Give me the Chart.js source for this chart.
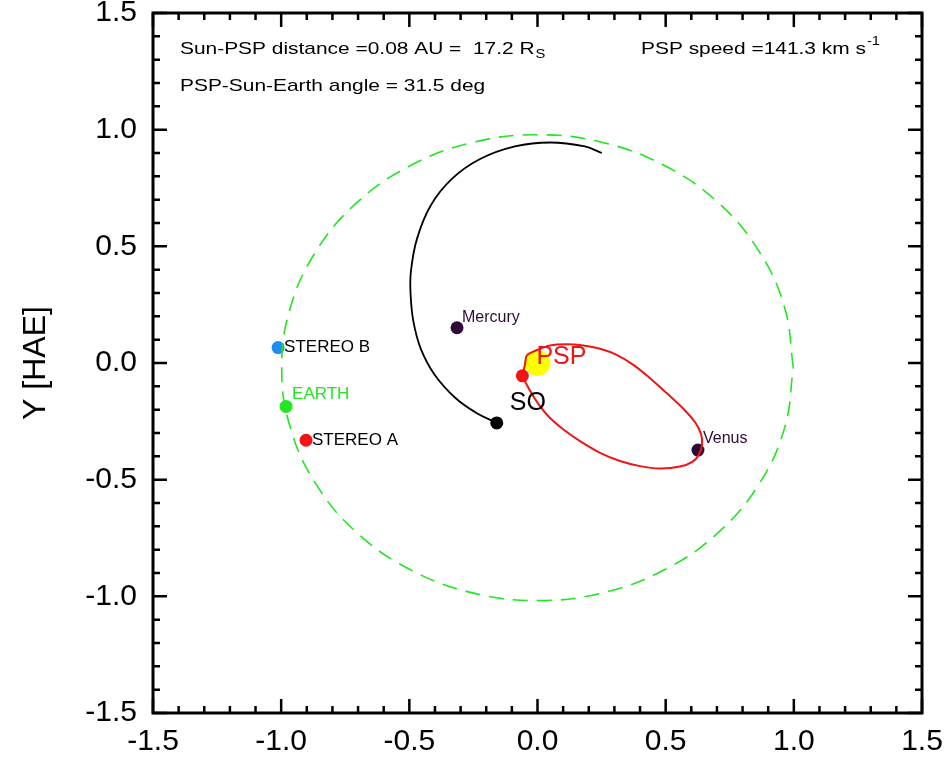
<!DOCTYPE html>
<html>
<head>
<meta charset="utf-8">
<script src="https://cdn.jsdelivr.net/npm/chart.js@4"></script>
<style>
  html, body { margin: 0; padding: 0; background: #fff; }
  #wrap { width: 949px; height: 758px; position: relative; }
</style>
</head>
<body>
<div id="wrap"><canvas id="orbits"></canvas></div>
<script>
// Positions in HAE [AU]
const bodyNames = ["STEREO B", "EARTH", "STEREO A", "Mercury", "Venus", "SO", "PSP"];
const bodyX = [-1.012, -0.981, -0.903, -0.314, 0.626, -0.159, -0.059];
const bodyY = [0.066, -0.186, -0.331, 0.151, -0.373, -0.257, -0.055];

const sunX = [0.0];
const sunY = [0.0];

// Earth orbit (dashed)
const earthOrbitX = [0.998, 0.964, 0.864, 0.706, 0.499, 0.258, 0.000, -0.258, -0.499, -0.706, -0.864, -0.964,
  -0.998, -0.964, -0.864, -0.706, -0.499, -0.258, 0.000, 0.258, 0.499, 0.706, 0.864, 0.964, 0.998];
const earthOrbitY = [-0.020, 0.238, 0.479, 0.686, 0.844, 0.944, 0.978, 0.944, 0.844, 0.686, 0.479, 0.238,
  -0.020, -0.278, -0.519, -0.726, -0.884, -0.984, -1.018, -0.984, -0.884, -0.726, -0.519, -0.278, -0.020];

// Solar Orbiter track
const soPathX = [-0.159, -0.238, -0.320, -0.402, -0.456, -0.484, -0.495, -0.494, -0.470, -0.416, -0.334,
  -0.224, -0.088, 0.049, 0.185, 0.251];
const soPathY = [-0.257, -0.214, -0.150, -0.049, 0.063, 0.177, 0.292, 0.391, 0.533, 0.676, 0.789,
  0.874, 0.928, 0.945, 0.928, 0.900];

// Parker Solar Probe orbit
const pspOrbitX = [-0.059, -0.049, -0.042, -0.016, 0.049, 0.114, 0.179, 0.244, 0.309, 0.374, 0.439, 0.504,
  0.569, 0.615, 0.638, 0.642, 0.630, 0.604, 0.556, 0.478, 0.400, 0.322, 0.244, 0.166, 0.101, 0.049, 0.010,
  -0.016, -0.042, -0.059];
const pspOrbitY = [-0.055, -0.008, 0.032, 0.049, 0.075, 0.080, 0.075, 0.061, 0.035, -0.008, -0.065, -0.129,
  -0.196, -0.254, -0.305, -0.350, -0.392, -0.424, -0.444, -0.452, -0.442, -0.420, -0.385, -0.335, -0.285,
  -0.236, -0.186, -0.143, -0.093, -0.055];

const headerLines = ["Sun-PSP distance =0.08 AU =  17.2 R", "PSP-Sun-Earth angle = 31.5 deg", "PSP speed =141.3 km s"];

// styles
const FONT = "Helvetica, Arial, 'Liberation Sans', sans-serif";
const bodyColors = ["#1e8cf0", "#22e622", "#f01414", "#2e0b36", "#2e0b36", "#000000", "#f01414"];
const labelStyle = [
  { dx: 6, dy: 0, size: 17, color: "#000" },
  { dx: 6, dy: -12, size: 17, color: "#22e622" },
  { dx: 6, dy: 0, size: 17, color: "#000" },
  { dx: 5, dy: -10, size: 16, color: "#2e0b36" },
  { dx: 5, dy: -11, size: 16, color: "#2e0b36" },
  { dx: 13, dy: -20, size: 25, color: "#000" },
  { dx: 14, dy: -19, size: 25, color: "#f01414" },
];

const toPoints = (xs, ys) => xs.map((x, i) => ({ x: x, y: ys[i] }));

// header text in the original is drawn wider than the font's natural width
function wideText(ctx, text, x, y, sx) {
  ctx.save();
  ctx.translate(x, y);
  ctx.scale(sx, 1);
  ctx.fillText(text, 0, 0);
  ctx.restore();
  return ctx.measureText(text).width * sx;
}

const frameTicks = {
  id: "frameTicks",
  afterDraw(chart) {
    const { ctx, chartArea: a, scales } = chart;
    const sx = scales.x, sy = scales.y;
    ctx.save();
    ctx.strokeStyle = "#000";
    ctx.lineWidth = 2.5;
    ctx.beginPath();
    for (let i = -15; i <= 15; i++) {
      const v = i / 10;
      const len = i % 5 === 0 ? 14 : 7;
      const px = sx.getPixelForValue(v);
      const py = sy.getPixelForValue(v);
      ctx.moveTo(px, a.bottom); ctx.lineTo(px, a.bottom - len);
      ctx.moveTo(px, a.top); ctx.lineTo(px, a.top + len);
      ctx.moveTo(a.left, py); ctx.lineTo(a.left + len, py);
      ctx.moveTo(a.right, py); ctx.lineTo(a.right - len, py);
    }
    ctx.stroke();
    ctx.lineWidth = 3;
    ctx.strokeRect(a.left, a.top, a.right - a.left, a.bottom - a.top);
    ctx.restore();
  },
};

const bodyLabels = {
  id: "bodyLabels",
  afterDatasetsDraw(chart) {
    const { ctx, scales } = chart;
    ctx.save();
    ctx.textBaseline = "middle";
    ctx.textAlign = "left";
    bodyNames.forEach((name, i) => {
      const st = labelStyle[i];
      ctx.font = `${st.size}px ${FONT}`;
      ctx.fillStyle = st.color;
      ctx.fillText(name, scales.x.getPixelForValue(bodyX[i]) + st.dx, scales.y.getPixelForValue(bodyY[i]) + st.dy);
    });

    // header notes with sub/superscripts
    const stretch = 1.23;
    ctx.fillStyle = "#000";
    ctx.font = `17px ${FONT}`;
    const w1 = wideText(ctx, headerLines[0], 180, 49, stretch);
    wideText(ctx, headerLines[1], 180, 86, stretch);
    const w3 = wideText(ctx, headerLines[2], 641, 49, stretch);
    ctx.font = `12px ${FONT}`;
    wideText(ctx, "S", 180 + w1 + 1, 55, stretch);
    wideText(ctx, "-1", 641 + w3 + 1, 42, stretch);
    ctx.restore();
  },
};

class OrbitPlot {
  constructor(id) {
    this.ctx = document.getElementById(id);
    this.chart = new Chart(this.ctx, {
      type: "scatter",
      data: { datasets: this.datasets },
      options: this.chartOptions,
      plugins: [frameTicks, bodyLabels],
    });
  }

  get datasets() {
    return [
      {
        data: toPoints(earthOrbitX, earthOrbitY),
        showLine: true,
        borderColor: "#22e622",
        borderWidth: 1.6,
        borderDash: [15, 9],
        pointRadius: 0,
        tension: 0.4,
      },
      {
        data: toPoints(soPathX, soPathY),
        showLine: true,
        borderColor: "#000",
        borderWidth: 1.8,
        pointRadius: 0,
        tension: 0.4,
      },
      {
        data: toPoints(pspOrbitX, pspOrbitY),
        showLine: true,
        borderColor: "#f01414",
        borderWidth: 2,
        pointRadius: 0,
        tension: 0.35,
      },
      {
        data: toPoints(sunX, sunY),
        pointRadius: 13,
        pointBackgroundColor: "#ffff00",
        pointBorderWidth: 0,
      },
      {
        data: toPoints(bodyX, bodyY),
        pointRadius: 6.5,
        pointBackgroundColor: bodyColors,
        pointBorderWidth: 0,
      },
    ];
  }

  get chartOptions() {
    const label = (v) => (Math.abs(v) < 1e-9 ? "0.0" : v.toFixed(1));
    return {
      responsive: true,
      maintainAspectRatio: false,
      animation: false,
      layout: { padding: { top: 10, right: 27, left: 0, bottom: 0 } },
      scales: {
        x: {
          type: "linear",
          min: -1.5,
          max: 1.5,
          grid: { display: false, drawTicks: false },
          border: { display: false },
          ticks: {
            stepSize: 0.5,
            padding: 11,
            maxRotation: 0,
            minRotation: 0,
            color: "#000",
            font: { family: FONT, size: 30 },
            callback: label,
          },
          afterFit: (s) => {
            s.height = 45;
            s.paddingLeft = 0;
            s.paddingRight = 0;
          },
        },
        y: {
          type: "linear",
          min: -1.5,
          max: 1.5,
          grid: { display: false, drawTicks: false },
          border: { display: false },
          title: {
            display: true,
            text: "Y [HAE]",
            color: "#000",
            font: { family: FONT, size: 32 },
            padding: { top: 17, bottom: 0 },
          },
          ticks: {
            stepSize: 0.5,
            padding: 16,
            color: "#000",
            font: { family: FONT, size: 30 },
            callback: label,
          },
          afterFit: (s) => {
            s.width = 153;
            s.paddingTop = 0;
            s.paddingBottom = 0;
          },
        },
      },
      plugins: {
        legend: { display: false },
        tooltip: { enabled: false },
      },
    };
  }
}

new OrbitPlot("orbits");
</script>
</body>
</html>
